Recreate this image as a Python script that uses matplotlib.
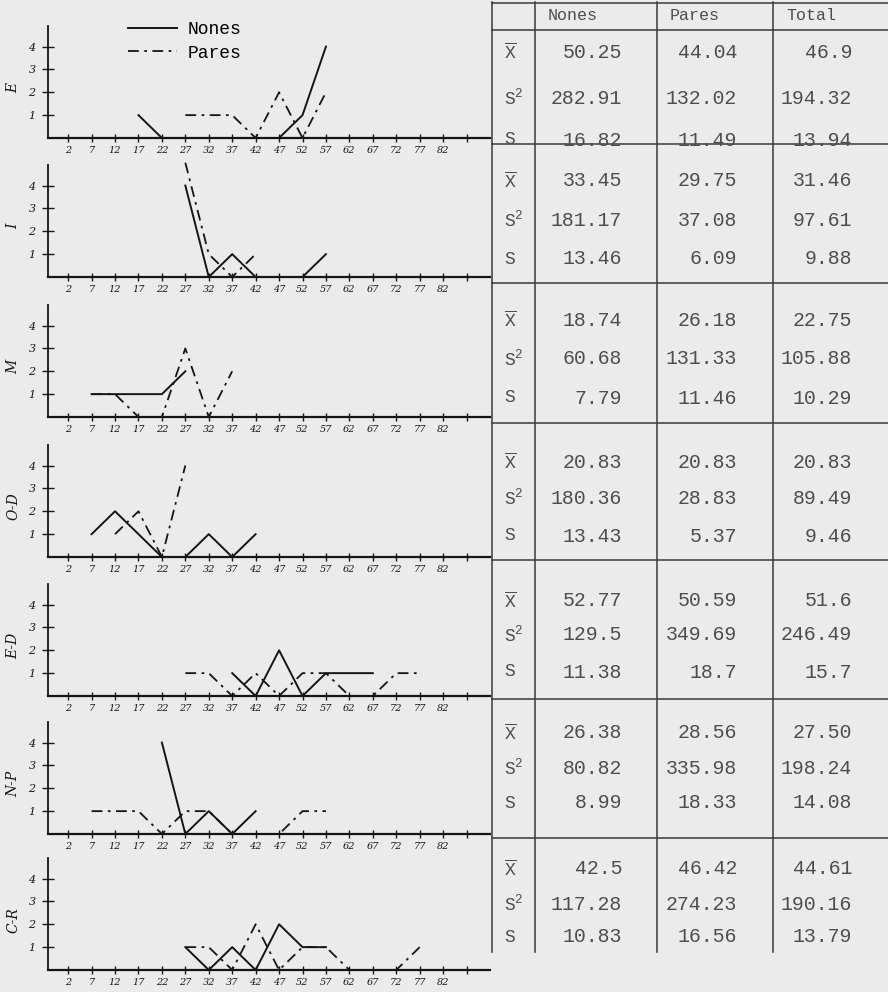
import matplotlib
matplotlib.use('Agg')
import matplotlib.pyplot as plt
from matplotlib.lines import Line2D

# ---- datos ----
traits = ['E', 'I', 'M', 'O-D', 'E-D', 'N-P', 'C-R']
x_ticks = [2, 7, 12, 17, 22, 27, 32, 37, 42, 47, 52, 57, 62, 67, 72, 77, 82]
y_ticks = [1, 2, 3, 4]

nones_x = [
    [17, 22, 27, 32, 37, 42, 47, 52, 57],
    [27, 32, 37, 42, 47, 52, 57],
    [7, 12, 17, 22, 27],
    [7, 12, 17, 22, 27, 32, 37, 42],
    [37, 42, 47, 52, 57, 62, 67],
    [22, 27, 32, 37, 42],
    [27, 32, 37, 42, 47, 52, 57],
]
nones_y = [
    [1, 0, 0, 0, 0, 0, 0, 1, 4],
    [4, 0, 1, 0, 0, 0, 1],
    [1, 1, 1, 1, 2],
    [1, 2, 1, 0, 0, 1, 0, 1],
    [1, 0, 2, 0, 1, 1, 1],
    [4, 0, 1, 0, 1],
    [1, 0, 1, 0, 2, 1, 1],
]
pares_x = [
    [27, 32, 37, 42, 47, 52, 57],
    [27, 32, 37, 42],
    [7, 12, 17, 22, 27, 32, 37],
    [12, 17, 22, 27],
    [27, 32, 37, 42, 47, 52, 57, 62, 67, 72, 77],
    [7, 12, 17, 22, 27, 32, 37, 42, 47, 52, 57],
    [27, 32, 37, 42, 47, 52, 57, 62, 67, 72, 77],
]
pares_y = [
    [1, 1, 1, 0, 2, 0, 2],
    [5, 1, 0, 1],
    [1, 1, 0, 0, 3, 0, 2],
    [1, 2, 0, 4],
    [1, 1, 0, 1, 0, 1, 1, 0, 0, 1, 1],
    [1, 1, 1, 0, 1, 1, 0, 0, 0, 1, 1],
    [1, 1, 0, 2, 0, 1, 1, 0, 0, 0, 1],
]

col_names = ['Nones', 'Pares', 'Total']
mean_vals = [
    ['50.25', '44.04', '46.9'],
    ['33.45', '29.75', '31.46'],
    ['18.74', '26.18', '22.75'],
    ['20.83', '20.83', '20.83'],
    ['52.77', '50.59', '51.6'],
    ['26.38', '28.56', '27.50'],
    ['42.5', '46.42', '44.61'],
]
var_vals = [
    ['282.91', '132.02', '194.32'],
    ['181.17', '37.08', '97.61'],
    ['60.68', '131.33', '105.88'],
    ['180.36', '28.83', '89.49'],
    ['129.5', '349.69', '246.49'],
    ['80.82', '335.98', '198.24'],
    ['117.28', '274.23', '190.16'],
]
sd_vals = [
    ['16.82', '11.49', '13.94'],
    ['13.46', '6.09', '9.88'],
    ['7.79', '11.46', '10.29'],
    ['13.43', '5.37', '9.46'],
    ['11.38', '18.7', '15.7'],
    ['8.99', '18.33', '14.08'],
    ['10.83', '16.56', '13.79'],
]

# ---- estilo ----
W, H = 888, 992
paper = '#ebebeb'
ink = '#151515'
type_ink = '#4d4d4d'
mono = 'Liberation Mono'
plt.rcParams['mathtext.fontset'] = 'custom'
plt.rcParams['mathtext.rm'] = mono
plt.rcParams['mathtext.it'] = mono

fig = plt.figure(figsize=(W / 100, H / 100), dpi=100, facecolor=paper)

pares_style = dict(color=ink, lw=1.3, linestyle=(0, (6, 3, 1.5, 3)))
nones_style = dict(color=ink, lw=1.4, linestyle='-')

# posicion (px) del eje x de cada grafico
axis_y = [138, 277, 417, 557, 696, 834, 970]
panel_h = 112

for i, name in enumerate(traits):
    ax = fig.add_axes([48 / W, 1 - axis_y[i] / H, 442 / W, panel_h / H])
    ax.set_facecolor('none')
    ax.plot(nones_x[i], nones_y[i], clip_on=False, **nones_style)
    ax.plot(pares_x[i], pares_y[i], clip_on=False, **pares_style)
    ax.set_xlim(-2.3, 92)
    ax.set_ylim(0, 4.9)
    ax.set_xticks(x_ticks + [87])
    ax.set_xticklabels([str(t) for t in x_ticks] + [''])
    ax.set_yticks(y_ticks)
    ax.set_yticklabels([str(t) for t in y_ticks])
    for side in ['top', 'right']:
        ax.spines[side].set_visible(False)
    ax.spines['bottom'].set_linewidth(1.6)
    ax.spines['left'].set_linewidth(1.3)
    ax.spines['bottom'].set_color(ink)
    ax.spines['left'].set_color(ink)
    ax.tick_params(axis='x', direction='inout', length=6, width=1, pad=3,
                   labelsize=7, colors=ink)
    ax.tick_params(axis='y', direction='inout', length=8, width=1, pad=5,
                   labelsize=8, colors=ink)
    for lab in ax.get_xticklabels() + ax.get_yticklabels():
        lab.set_fontstyle('italic')
        lab.set_family('DejaVu Serif')
    ax.set_ylabel(name, fontsize=10, fontstyle='italic', family='DejaVu Serif',
                  color=ink)
    ax.yaxis.set_label_coords(-0.062, 0.45)

# leyenda
handles = [Line2D([], [], **nones_style), Line2D([], [], **pares_style)]
fig.legend(handles, ['Nones', 'Pares'], loc='upper left',
           bbox_to_anchor=(112 / W, 1 - 5 / H), frameon=False,
           prop={'family': mono, 'size': 13}, handlelength=2.7,
           labelspacing=0.35, handletextpad=0.6)

# ---- tabla ----
tab = fig.add_axes([0, 0, 1, 1])
tab.set_xlim(0, W)
tab.set_ylim(H, 0)
tab.axis('off')

line_kw = dict(color='#3a3a3a', lw=1.1)
col_edges = [492, 535, 657, 773]
for x in col_edges:
    tab.plot([x, x], [2, 952], **line_kw)
block_edges = [3, 30, 144, 283, 423, 560, 699, 838]
for y in block_edges:
    tab.plot([492, 888], [y, y], **line_kw)

for j, c in enumerate(col_names):
    tab.text(col_edges[j + 1] + 13, 16, c, ha='left', va='center',
             family=mono, fontsize=12, color=type_ink)

row_y = [(52, 98, 140), (181, 220, 259), (320, 359, 398), (462, 498, 536),
         (601, 635, 672), (733, 768, 803), (869, 904, 937)]
num_right = [622, 737, 852]
row_labels = [r'$\overline{\mathrm{X}}$', r'$\mathrm{S}^2$', 'S']
for b in range(len(traits)):
    rows = [mean_vals[b], var_vals[b], sd_vals[b]]
    for r in range(3):
        y = row_y[b][r]
        tab.text(504, y, row_labels[r], ha='left', va='center', family=mono,
                 fontsize=13, color=type_ink)
        for j in range(3):
            tab.text(num_right[j], y, rows[r][j], ha='right', va='center',
                     family=mono, fontsize=14.3, color=type_ink)

fig.savefig('out.png', dpi=100, facecolor=paper)
